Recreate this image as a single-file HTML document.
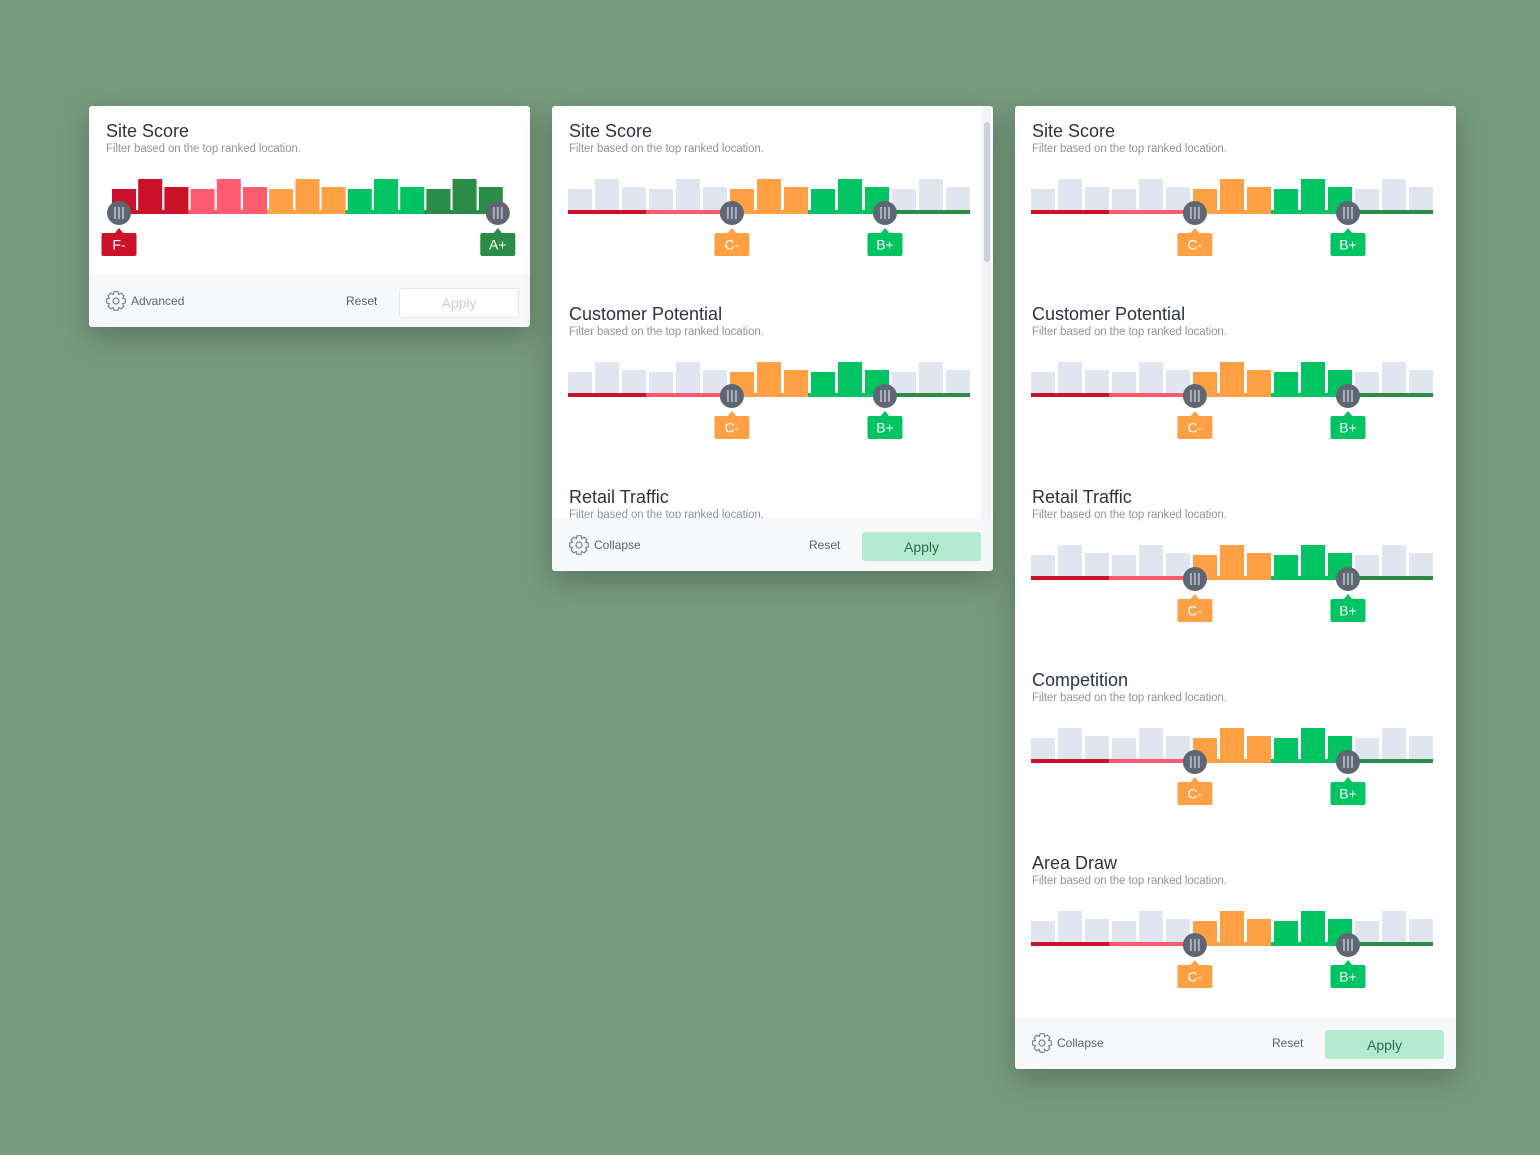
<!DOCTYPE html>
<html><head><meta charset="utf-8">
<style>
body{margin:0;width:1540px;height:1155px;background:#789b7f;font-family:"Liberation Sans",sans-serif;position:relative;overflow:hidden}
.card{position:absolute;background:#fff;border-radius:3px;box-shadow:0 10px 30px rgba(30,50,35,.35);overflow:hidden}
.footer{position:absolute;left:0;right:0;bottom:0;background:#f7f8fa}
.ttl{position:absolute;font-size:18px;color:#2c3440;white-space:nowrap}
.sub{position:absolute;font-size:11.5px;color:#8f959d;white-space:nowrap;letter-spacing:-0.1px}
.ft{position:absolute;font-size:12px;color:#5c636d}
.btn{position:absolute;width:119px;height:29px;border-radius:3px;font-size:14px;text-align:center;line-height:30px}
svg{position:absolute;left:0;top:0}
</style></head><body>
<div class="card" id="c1" style="left:89px;top:106px;width:441px;height:221px">
 <div class="footer" style="height:52px"></div>
</div>
<div class="card" id="c2" style="left:552px;top:106px;width:441px;height:465px">
 <div class="footer" style="height:53px"></div>
 <div style="position:absolute;left:429px;top:0;width:10px;height:412px;background:#f3f5f8"></div>
 <div style="position:absolute;left:432px;top:16px;width:6px;height:140px;border-radius:3px;background:#cbd2dd"></div>
</div>
<div class="card" id="c3" style="left:1015px;top:106px;width:441px;height:963px">
 <div class="footer" style="height:52px"></div>
</div>
<script>
const barValues=[21,31,23,21,31,23,21,31,23,21,31,23,21,31,23];
const bandColors=['#cc1228','#ff5b6e','#ffa045','#00c462','#2b8c47'];
const gradeLabels=['F-','A+','C-','B+'];
const sectionTitles=['Site Score','Customer Potential','Retail Traffic','Competition','Area Draw'];
const lowHandle=6.07, highHandle=11.74;
const NS='http://www.w3.org/2000/svg';
function el(tag,attrs,parent){const e=document.createElementNS(NS,tag);for(const k in attrs)e.setAttribute(k,attrs[k]);parent.appendChild(e);return e;}
function addText(card,cls,txt,x,y){const d=document.createElement('div');d.className=cls;d.textContent=txt;d.style.left=x+'px';d.style.top=y+'px';card.appendChild(d);return d;}
function handle(svg,cx,cy){const g=el('g',{},svg);


el('circle',{cx:cx,cy:cy,r:12,fill:'#5f6673'},g);
for(const dx of [-4,0,4])el('rect',{x:cx+dx-1,y:cy-6,width:2,height:12,fill:'#aab0ba'},g);}
function tag(svg,cx,top,txt,col){const g=el('g',{},svg);


el('path',{d:`M${cx-5} ${top+1} L${cx} ${top-5} L${cx+5} ${top+1}Z`,fill:col},g);
el('rect',{x:cx-17.5,y:top,width:35,height:23,rx:2,fill:col},g);
const t=el('text',{x:cx,y:top+16.5,'text-anchor':'middle','font-size':14,fill:'#fff','font-family':'Liberation Sans,sans-serif'},g);t.textContent=txt;}
function slider(card,svg,x0,pitch,bw,base,full){
 const xs=i=>x0+i*pitch;
 const total=15*pitch-(pitch-bw);
 barValues.forEach((v,i)=>{
  let col=bandColors[Math.floor(i/3)];
  if(!full&&(i<6||i>11))col='#e0e5ef';
  const r=el('rect',{x:xs(i),y:base-v,width:bw,height:v,fill:col},svg);
  
  
 });
 for(let b=0;b<5;b++){
  const x1=xs(b*3)-(b?pitch-bw:0), x2=b==4?x0+total:xs(b*3+3)-(pitch-bw);
  const r=el('rect',{x:x1,y:base,width:x2-x1+(b<4?pitch-bw:0),height:4,fill:bandColors[b]},svg);
  
  
 }
 if(full){handle(svg,x0+7,base+3);handle(svg,x0+total-5,base+3);
  tag(svg,x0+7,base+23,gradeLabels[0],bandColors[0]);tag(svg,x0+total-5,base+23,gradeLabels[1],bandColors[4]);}
 else{const lx=x0+lowHandle*pitch,hx=x0+highHandle*pitch;
  handle(svg,lx,base+3);handle(svg,hx,base+3);
  tag(svg,lx,base+23,gradeLabels[2],bandColors[2]);tag(svg,hx,base+23,gradeLabels[3],bandColors[3]);}
}
function gear(svg,cx,cy){const g=el('g',{fill:'none',stroke:'#7a818b','stroke-width':1.2},svg);
 
 
 let d='';for(let i=0;i<8;i++){const a=i*Math.PI/4,a1=a-0.2,a2=a+0.2;
  const p=(r,t)=>`${(cx+r*Math.cos(t)).toFixed(1)} ${(cy+r*Math.sin(t)).toFixed(1)}`;
  d+=(i?'L':'M')+p(7,a-0.39)+'L'+p(9.5,a1)+'L'+p(9.5,a2)+'L'+p(7,a+0.39);}
 el('path',{d:d+'Z'},g);el('circle',{cx:cx,cy:cy,r:3},g);}
function footer(card,svg,fy,linkTxt,applyActive){
 gear(svg,27,fy);
 const a=addText(card,'ft',linkTxt,42,fy-7);
 const r=addText(card,'ft','Reset',0,fy-7);r.style.left=(card.offsetWidth-184)+'px';
 const b=document.createElement('div');b.className='btn';b.textContent='Apply';b.style.left=(card.offsetWidth-131)+'px';b.style.top=(fy-13)+'px';
 if(applyActive){b.style.background='#b4ead0';b.style.color='#2b6b4a';}else{b.style.background='#fff';b.style.border='1px solid #e3e6ea';b.style.color='#c8ced6';b.style.height='28px';b.style.lineHeight='29px';b.style.width='118px';}
 card.appendChild(b);
}
function build(id,sections,full,link,active,x0,pitch,bw){
 const card=document.getElementById(id);const W=card.offsetWidth,H=card.offsetHeight;
 const svg=el('svg',{width:W,height:H},card);
 sections.forEach((s,k)=>{const top=k*183;
  const t=addText(card,'ttl',s,17,top+15);
  const st=addText(card,'sub','Filter based on the top ranked location.',17,top+37);
  slider(card,svg,x0,pitch,bw,top+104,full);});
 const f=card.querySelector('.footer');card.appendChild(f);
 const fs=el('svg',{width:W,height:H},card);fs.style.zIndex=2;
 footer(card,fs,H-26,link,active);
}
build('c1',['Site Score'],true,'Advanced',false,23,26.2,24);
build('c2',sectionTitles.slice(0,3),false,'Collapse',true,16,27,24);
build('c3',sectionTitles,false,'Collapse',true,16,27,24);
</script>
</body></html>
